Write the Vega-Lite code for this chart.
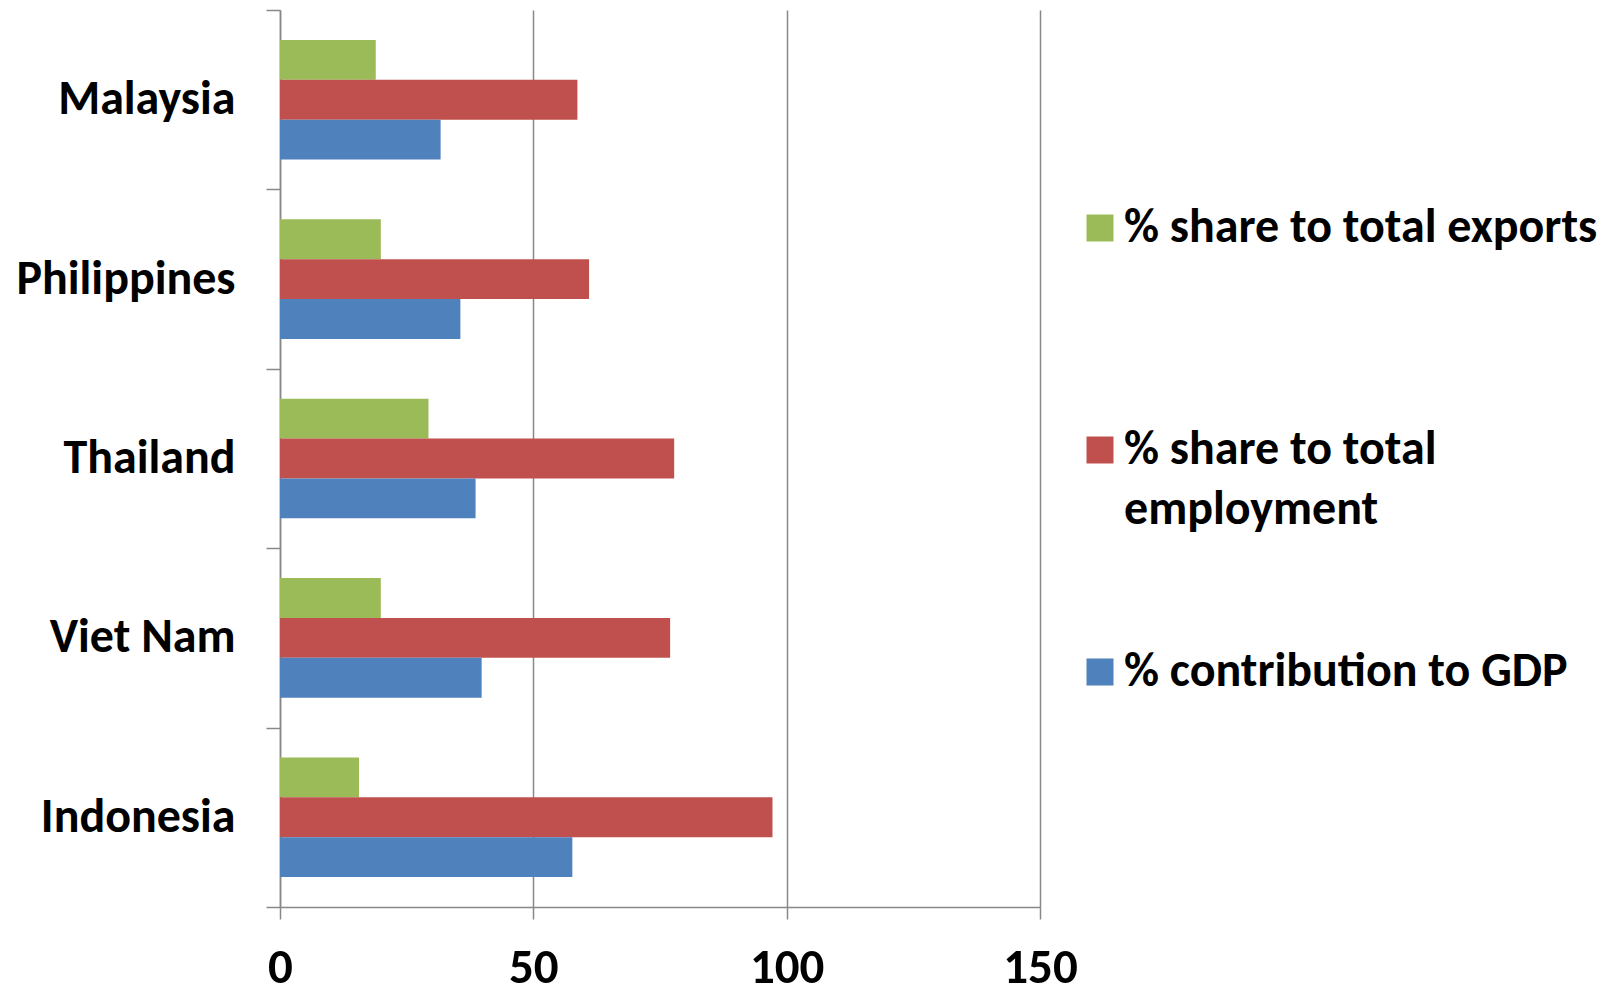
{
  "$schema": "https://vega.github.io/schema/vega-lite/v6.json",
  "autosize": {"type": "none"},
  "padding": {"left": 280, "top": 10, "right": 574, "bottom": 80},
  "width": 760,
  "height": 897,
  "background": "white",
  "data": {
    "values": [
      {"country": "Malaysia", "measure": "% share to total exports", "value": 18.9},
      {"country": "Malaysia", "measure": "% share to total employment", "value": 58.7},
      {"country": "Malaysia", "measure": "% contribution to GDP", "value": 31.7},
      {"country": "Philippines", "measure": "% share to total exports", "value": 19.9},
      {"country": "Philippines", "measure": "% share to total employment", "value": 61.0},
      {"country": "Philippines", "measure": "% contribution to GDP", "value": 35.6},
      {"country": "Thailand", "measure": "% share to total exports", "value": 29.3},
      {"country": "Thailand", "measure": "% share to total employment", "value": 77.8},
      {"country": "Thailand", "measure": "% contribution to GDP", "value": 38.6},
      {"country": "Viet Nam", "measure": "% share to total exports", "value": 19.9},
      {"country": "Viet Nam", "measure": "% share to total employment", "value": 77.0},
      {"country": "Viet Nam", "measure": "% contribution to GDP", "value": 39.8},
      {"country": "Indonesia", "measure": "% share to total exports", "value": 15.6},
      {"country": "Indonesia", "measure": "% share to total employment", "value": 97.2},
      {"country": "Indonesia", "measure": "% contribution to GDP", "value": 57.7}
    ]
  },
  "mark": {"type": "bar"},
  "encoding": {
    "y": {
      "field": "country",
      "type": "nominal",
      "sort": ["Malaysia", "Philippines", "Thailand", "Viet Nam", "Indonesia"],
      "scale": {"paddingInner": 0, "paddingOuter": 0},
      "axis": {
        "title": null,
        "tickBand": "extent",
        "tickSize": 14,
        "tickColor": "#888888",
        "tickWidth": 1.5,
        "domainColor": "#888888",
        "domainWidth": 1.5,
        "labelFont": "Carlito, Lato",
        "labelFontWeight": "bold",
        "labelFontSize": 48,
        "labelColor": "#000000",
        "labelPadding": 31,
        "labelLimit": 400,
        "grid": false
      }
    },
    "yOffset": {
      "field": "measure",
      "type": "nominal",
      "sort": ["% share to total exports", "% share to total employment", "% contribution to GDP"],
      "scale": {"paddingInner": 0, "paddingOuter": 0.75}
    },
    "x": {
      "field": "value",
      "type": "quantitative",
      "scale": {"domain": [0, 150], "nice": false},
      "axis": {
        "title": null,
        "values": [0, 50, 100, 150],
        "grid": true,
        "gridColor": "#888888",
        "gridWidth": 1.5,
        "gridOpacity": 1,
        "tickSize": 12,
        "tickColor": "#888888",
        "tickWidth": 1.5,
        "domainColor": "#888888",
        "domainWidth": 1.5,
        "labelFont": "Carlito, Lato",
        "labelFontWeight": "bold",
        "labelFontSize": 49,
        "labelColor": "#000000",
        "labelPadding": 24,
        "labelFlush": false
      }
    },
    "color": {
      "field": "measure",
      "type": "nominal",
      "sort": ["% share to total exports", "% share to total employment", "% contribution to GDP"],
      "scale": {
        "domain": ["% share to total exports", "% share to total employment", "% contribution to GDP"],
        "range": ["#9BBB59", "#C0504D", "#4F81BD"]
      },
      "legend": {
        "title": null,
        "orient": "none",
        "legendX": 796,
        "legendY": 194,
        "padding": 0,
        "symbolType": "square",
        "symbolSize": 729,
        "symbolStrokeWidth": 0,
        "symbolOpacity": 1,
        "labelFont": "Carlito, Lato",
        "labelFontWeight": "bold",
        "labelFontSize": 48,
        "labelColor": "#000000",
        "labelOffset": 0,
        "labelLimit": 600,
        "labelBaseline": "middle",
        "labelExpr": "datum.label == '% share to total employment' ? ['% share to total', 'employment'] : datum.label",
        "gridAlign": "all",
        "rowPadding": 114
      }
    }
  },
  "config": {
    "view": {"stroke": null},
    "style": {"guide-label": {"lineHeight": 60}}
  }
}
